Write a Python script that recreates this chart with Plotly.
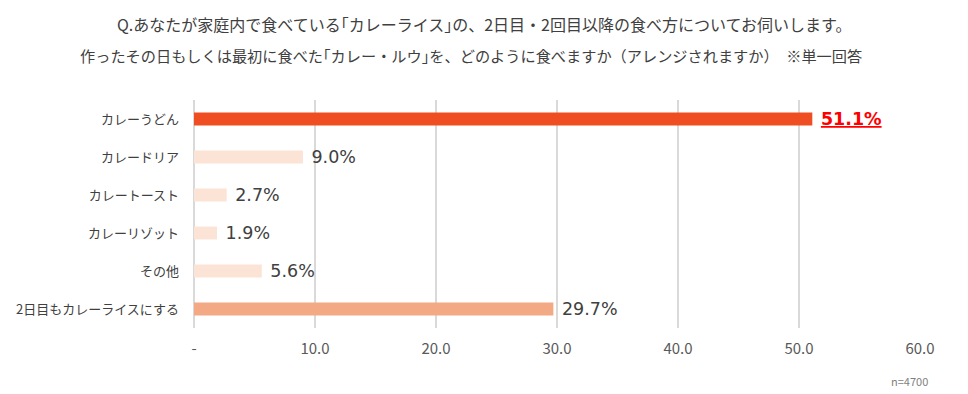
import plotly.graph_objects as go

categories = ["カレーうどん", "カレードリア", "カレートースト", "カレーリゾット", "その他", "2日目もカレーライスにする"]
values = [51.1, 9.0, 2.7, 1.9, 5.6, 29.7]
bar_colors = ["#EF4E22", "#FBE3D6", "#FBE3D6", "#FBE3D6", "#FBE3D6", "#F4A985"]
tick_vals = [0, 10, 20, 30, 40, 50, 60]
tick_text = ["-", "10.0", "20.0", "30.0", "40.0", "50.0", "60.0"]
title_lines = [
    "Q.あなたが家庭内で食べている｢カレーライス｣の、2日目・2回目以降の食べ方についてお伺いします。",
    "作ったその日もしくは最初に食べた｢カレー・ルウ｣を、どのように食べますか（アレンジされますか）　※単一回答",
]
note = "n=4700"

font_family = "Noto Sans CJK JP, sans-serif"

texts = []
text_colors = []
for i, v in enumerate(values):
    if i == 0:
        texts.append(" <b><u>%.1f%%</u></b>" % v)
        text_colors.append("#FF0000")
    else:
        texts.append(" %.1f%%" % v)
        text_colors.append("#404040")

fig = go.Figure(go.Bar(
    x=values, y=categories, orientation="h",
    marker=dict(color=bar_colors, line=dict(width=0)),
    width=0.34,
    text=texts, textposition="outside", constraintext="none",
    textfont=dict(size=17.5, color=text_colors, family="DejaVu Sans, sans-serif"),
    cliponaxis=False,
))

# page body has an 8px margin: figure is sized/offset to align with the reference frame
fig.update_layout(
    width=960, height=386,
    margin=dict(l=186, r=48, t=92, b=66, autoexpand=False),
    plot_bgcolor="white", paper_bgcolor="white",
    font=dict(family=font_family, color="#595959"),
    showlegend=False,
    xaxis=dict(range=[0, 60], tickvals=tick_vals, ticktext=tick_text,
               showgrid=True, gridcolor="#D9D9D9", gridwidth=2,
               zeroline=True, zerolinecolor="#D9D9D9", zerolinewidth=2,
               showline=False, ticks="", tickfont=dict(size=15, color="#595959"),
               ticklabelstandoff=10),
    yaxis=dict(autorange="reversed", showgrid=False, ticks="", showline=False,
               tickfont=dict(size=13, color="#404040"), ticklabelstandoff=14),
)

fig.add_annotation(text=title_lines[0], xref="paper", yref="paper", x=0.399, y=1, xanchor="center", yanchor="middle",
                   showarrow=False, font=dict(size=16, color="#404040"), yshift=76)
fig.add_annotation(text=title_lines[1], xref="paper", yref="paper", x=0.381, y=1, xanchor="center", yanchor="middle",
                   showarrow=False, font=dict(size=15.2, color="#404040"), yshift=45)
fig.add_annotation(text=note, xref="paper", yref="paper", x=1.0, y=0, xanchor="right", yanchor="middle",
                   showarrow=False, font=dict(size=11, color="#7F7F7F"), yshift=-53, xshift=10)

fig.write_html("out.html")
